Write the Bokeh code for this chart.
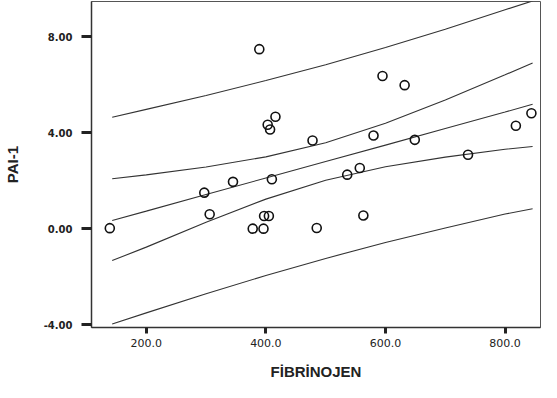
from bokeh.plotting import figure
from bokeh.models import FixedTicker, NumeralTickFormatter, Range1d
from bokeh.embed import file_html
from bokeh.resources import INLINE

# scatter data (FİBRİNOJEN vs PAI-1)
fib = [139, 297, 306, 345, 389, 416, 403, 407, 478, 595, 580, 410, 536,
       557, 632, 649, 818, 844, 738, 397, 405, 378, 396, 485, 563]
pai = [0.02, 1.50, 0.60, 1.95, 7.48, 4.66, 4.33, 4.13, 3.67, 6.36, 3.88, 2.06, 2.25,
       2.53, 5.98, 3.70, 4.29, 4.81, 3.08, 0.53, 0.53, 0.0, 0.0, 0.03, 0.55]

# fit line and bands at sample positions
line_x = [143, 200, 300, 400, 500, 600, 700, 800, 846]
fit_y = [0.34, 0.73, 1.42, 2.11, 2.80, 3.48, 4.17, 4.86, 5.18]
ci_up = [2.08, 2.24, 2.57, 2.99, 3.58, 4.39, 5.36, 6.41, 6.90]
ci_lo = [-1.33, -0.77, 0.27, 1.23, 2.02, 2.58, 2.98, 3.31, 3.42]
pi_up = [4.64, 4.97, 5.55, 6.17, 6.83, 7.55, 8.31, 9.12, 9.49]
pi_lo = [-3.97, -3.51, -2.71, -1.95, -1.24, -0.58, 0.03, 0.61, 0.83]

x_ticks = [200, 400, 600, 800]
y_ticks = [-4, 0, 4, 8]
x_title = "FİBRİNOJEN"
y_title = "PAI-1"

p = figure(width=541, height=382, output_backend="svg", toolbar_location=None,
           x_range=Range1d(108.4, 859.2), y_range=Range1d(-4.119, 9.465),
           min_border_left=91, min_border_right=1, min_border_top=1,
           min_border_bottom=53)
p.background_fill_color = "white"
p.border_fill_color = "white"
p.outline_line_color = "#555555"
p.outline_line_width = 1
p.xgrid.visible = False
p.ygrid.visible = False

for ys in (pi_up, ci_up, fit_y, ci_lo, pi_lo):
    p.line(line_x, ys, line_color="#333333", line_width=1.1)

p.scatter(fib, pai, marker="circle", size=9, fill_color=None,
          line_color="#111111", line_width=1.6)

for ax in (p.xaxis, p.yaxis):
    ax.axis_line_color = "#333333"
    ax.axis_line_width = 1.5
    ax.major_tick_line_color = "#222222"
    ax.major_tick_line_width = 3
    ax.major_tick_in = 0
    ax.minor_tick_line_color = None
    ax.major_label_text_color = "#222222"
    ax.axis_label_text_font = "Liberation Sans"
    ax.axis_label_text_font_size = "15px"
    ax.axis_label_text_font_style = "bold"
    ax.axis_label_text_color = "#222222"

p.xaxis.axis_label = x_title
p.yaxis.axis_label = y_title

p.xaxis.ticker = FixedTicker(ticks=x_ticks)
p.xaxis.formatter = NumeralTickFormatter(format="0.0")
p.xaxis.major_tick_out = 6
p.xaxis.major_label_standoff = 5
p.xaxis.major_label_text_font = "DejaVu Sans"
p.xaxis.major_label_text_font_size = "11px"
p.xaxis.axis_label_standoff = 13

p.yaxis.ticker = FixedTicker(ticks=y_ticks)
p.yaxis.formatter = NumeralTickFormatter(format="0.00")
p.yaxis.major_tick_out = 10
p.yaxis.major_label_standoff = 9
p.yaxis.major_label_text_font = "DejaVu Sans"
p.yaxis.major_label_text_font_style = "bold"
p.yaxis.major_label_text_font_size = "10px"
p.yaxis.axis_label_standoff = 20

open("out.html", "w").write(file_html(p, INLINE))
